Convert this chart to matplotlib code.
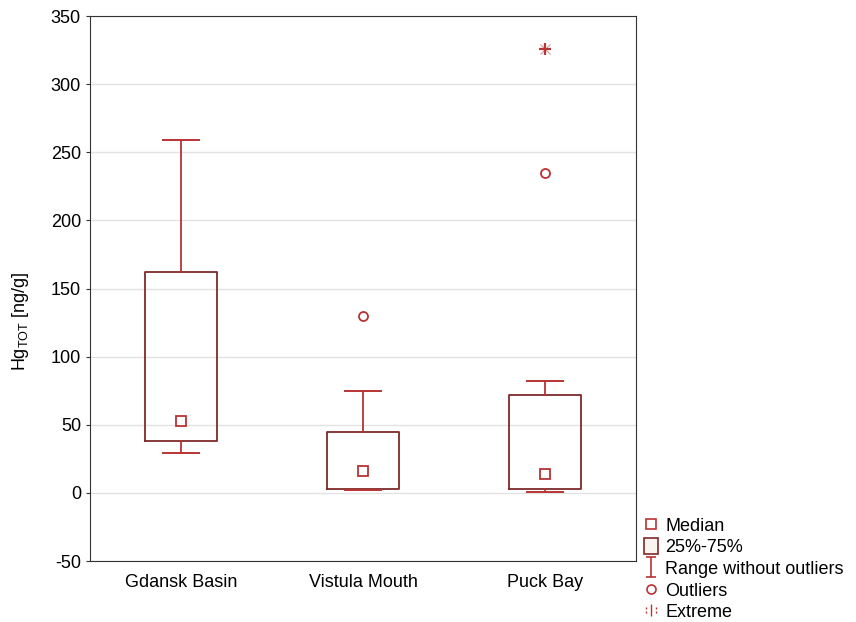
import matplotlib
matplotlib.use("Agg")
import matplotlib.pyplot as plt
from matplotlib.lines import Line2D
from matplotlib.patches import Rectangle
from matplotlib.path import Path

plt.rcParams["font.family"] = ["Liberation Sans", "DejaVu Sans"]
plt.rcParams["axes.unicode_minus"] = False
plt.rcParams["mathtext.fontset"] = "custom"
plt.rcParams["mathtext.rm"] = "Liberation Sans"

sites = ["Gdansk Basin", "Vistula Mouth", "Puck Bay"]
medians = [53, 16, 14]
q1 = [38, 3, 3]
q3 = [162, 45, 72]
whisk_lo = [29, 2, 1]
whisk_hi = [259, 75, 82]
outliers = [[], [130], [235]]
extremes = [[], [], [326]]

box_col = "#7e2a2a"
red = "#b83333"

fig = plt.figure(figsize=(8.56, 6.22), dpi=100)
ax = fig.add_axes([0.1051, 0.098, 0.638, 0.876])

stats = []
for i, s in enumerate(sites):
    stats.append({"label": s, "med": medians[i], "q1": q1[i], "q3": q3[i],
                  "whislo": whisk_lo[i], "whishi": whisk_hi[i], "fliers": []})

pos = range(1, len(sites) + 1)
ax.bxp(stats, positions=pos, widths=0.4, showfliers=False, showcaps=True,
       boxprops=dict(color=box_col, lw=1.3),
       whiskerprops=dict(color=red, lw=1.3),
       capprops=dict(color=red, lw=1.4),
       medianprops=dict(lw=0),
       capwidths=0.2)
ax.plot(pos, medians, ls="none", marker="s", ms=7, mfc="white", mec=red, mew=1.3, zorder=4)
for p, o in zip(pos, outliers):
    ax.plot([p] * len(o), o, ls="none", marker="o", ms=6.5, mfc="none", mec=red, mew=1.3)
for p, e in zip(pos, extremes):
    ax.plot([p] * len(e), e, ls="none", marker="+", ms=9, mec=red, mew=1.6)
    ax.plot([p] * len(e), e, ls="none", marker="x", ms=7, mec=red, mew=0.8, alpha=0.5)

ax.set_xlim(0.5, 3.5)
ax.set_ylim(-50, 350)
ax.set_yticks(range(-50, 351, 50))
ax.set_xticks(list(pos))
ax.set_xticklabels(sites)
ax.yaxis.grid(True, color="#e3e3e3", lw=1)
ax.set_axisbelow(True)
ax.tick_params(labelsize=13, length=3, color="#333333")
ax.tick_params(axis="x", length=0, pad=9)
ax.set_ylabel(r"Hg$_{\mathrm{TOT}}$ [ng/g]", fontsize=13)
ax.yaxis.set_label_coords(-0.108, 0.44)
for sp in ax.spines.values():
    sp.set_color("#333333")

ibeam = Path([(-0.45, 1), (0.45, 1), (0, 1), (0, -1), (-0.45, -1), (0.45, -1)],
             [Path.MOVETO, Path.LINETO, Path.MOVETO, Path.LINETO, Path.MOVETO, Path.LINETO])
extreme_mark = Path([(0, 1), (0, -1), (-0.8, 0.5), (-0.8, 0.2), (-0.8, -0.2), (-0.8, -0.5),
                     (0.8, 0.5), (0.8, 0.2), (0.8, -0.2), (0.8, -0.5)],
                    [Path.MOVETO, Path.LINETO, Path.MOVETO, Path.LINETO, Path.MOVETO, Path.LINETO,
                     Path.MOVETO, Path.LINETO, Path.MOVETO, Path.LINETO])
handles = [
    Line2D([], [], ls="none", marker="s", ms=6.5, mfc="white", mec=red, mew=1.2),
    Rectangle((0, 0), 1, 1, fc="#f8f4ee", ec=box_col, lw=1.2),
    Line2D([], [], ls="none", marker=ibeam, ms=15, mec=red, mew=1.2),
    Line2D([], [], ls="none", marker="o", ms=6.5, mfc="none", mec=red, mew=1.2),
    Line2D([], [], ls="none", marker=extreme_mark, ms=9, mec=red, mew=1.0),
]
labels = ["Median", "25%-75%", "Range without outliers", "Outliers", "Extreme"]
fig.legend(handles, labels, loc="lower left", bbox_to_anchor=(0.740, -0.016),
           frameon=False, fontsize=13, handlelength=0.75, handleheight=0.95,
           handletextpad=0.4, labelspacing=0.2, borderaxespad=0.2)

fig.savefig("out.png", dpi=100)
